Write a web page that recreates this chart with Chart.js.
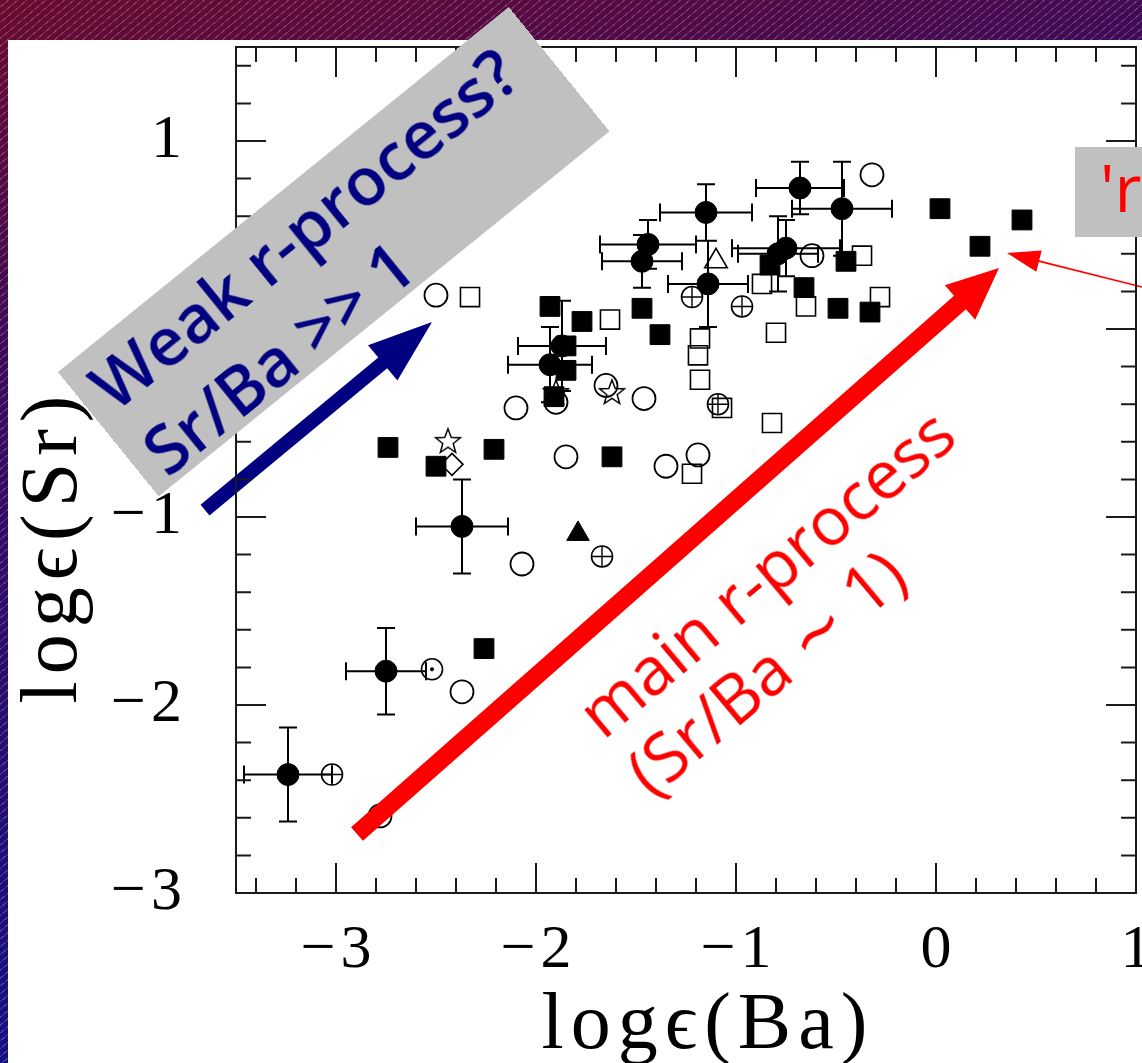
<!DOCTYPE html>
<html>
<head>
<meta charset="utf-8">
<script src="https://cdn.jsdelivr.net/npm/chart.js@4.4.1/dist/chart.umd.min.js"></script>
<style>
  html, body { margin: 0; padding: 0; }
  body {
    width: 1142px; height: 1063px; overflow: hidden; position: relative;
    background:
      repeating-linear-gradient(140deg, rgba(255,255,255,0) 0 5px, rgba(255,255,255,0.22) 5px 6px),
      linear-gradient(165deg, #6a0a2e 0%, #3a0a5c 28%, #10108a 85%);
  }
  #panel { position: absolute; left: 8px; top: 40px; right: 0; bottom: 0; background: #fff; }
  #chart { position: absolute; left: 0; top: 0; }
  .note { position: absolute; transform-origin: 0 0; white-space: nowrap; font-family: 'Open Sans', sans-serif; box-sizing: border-box; }
  #weak { left: 58px; top: 372px; width: 580px; height: 160px; transform: rotate(-39deg);
          background: #c0c0c0; color: #000080; font-weight: 600; font-size: 67px; line-height: 84px; padding-left: 18px; }
  #main { left: 562px; top: 692px; transform: rotate(-40deg); color: #ff0000; font-size: 67px; line-height: 76px; }
  #rbox { left: 1075px; top: 147px; width: 120px; height: 90px; background: #c0c0c0; color: #ff0000;
          font-size: 66px; line-height: 78px; padding-left: 25px; }
</style>
</head>
<body>
<div id="panel"></div>
<canvas id="chart" width="1142" height="1063"></canvas>
<div class="note" id="weak">Weak r-process?<br>Sr/Ba &gt;&gt; 1</div>
<div class="note" id="main">main r-process<br>(Sr/Ba&nbsp;&#8764;&nbsp;1)</div>
<div class="note" id="rbox">'r</div>
<script>
// axis ticks
const xTicks = [-3, -2, -1, 0, 1];
const yTicks = [-3, -2, -1, 0, 1];

// filled circles with error bars
const cirX  = [-3.24, -2.75, -2.37, -1.93, -1.87, -1.44, -1.47, -1.15, -1.14, -0.68, -0.47, -0.75, -0.79];
const cirY  = [-2.37, -1.82, -1.05, -0.19, -0.09, 0.45, 0.36, 0.62, 0.24, 0.75, 0.64, 0.43, 0.40];
const cirEx = [0.22, 0.20, 0.23, 0.21, 0.22, 0.24, 0.20, 0.23, 0.20, 0.22, 0.25, 0.27, 0.20];
const cirEy = [0.25, 0.23, 0.25, 0.20, 0.24, 0.13, 0.14, 0.15, 0.23, 0.14, 0.25, 0.15, 0.20];

// filled squares
const sqX = [-2.74, -2.50, -2.21, -1.62, -2.26, -1.93, -1.77, -1.85, -1.85, -1.91, -1.47, -1.38, -0.83, -0.66, -0.49, -0.33, -0.45, 0.02, 0.22, 0.43];
const sqY = [-0.63, -0.73, -0.64, -0.68, -1.70, 0.12, 0.04, -0.09, -0.22, -0.36, 0.11, -0.03, 0.34, 0.22, 0.11, 0.09, 0.36, 0.64, 0.44, 0.58];

// open squares
const osqX = [-2.33, -1.63, -1.18, -1.19, -1.18, -1.07, -0.82, -0.80, -1.22, -0.87, -0.37, -0.28, -0.65];
const osqY = [0.17, 0.05, -0.05, -0.14, -0.27, -0.42, -0.50, -0.02, -0.77, 0.24, 0.39, 0.17, 0.12];

// open circles
const ocX = [-2.50, -2.10, -1.85, -1.46, -1.35, -1.19, -2.07, -2.37, -2.78, -0.32, -0.62, -1.65, -1.90];
const ocY = [0.18, -0.42, -0.68, -0.37, -0.73, -0.67, -1.25, -1.93, -2.59, 0.82, 0.39, -0.30, -0.39];

// circles with a cross, circle with a dot
const plusX = [-3.02, -1.67, -1.22, -0.97, -1.09];
const plusY = [-2.37, -1.21, 0.17, 0.12, -0.40];
const dotX = [-2.52];
const dotY = [-1.81];

// stars, diamond, triangles
const starX = [-2.44, -1.62, -1.90];
const starY = [-0.60, -0.34, -0.34];
const diaX = [-2.42];
const diaY = [-0.72];
const ftX = [-1.79];
const ftY = [-1.09];
const otX = [-1.10];
const otY = [0.36];

// annotation arrows [x0, y0, x1, y1] in data units
const weakArrow = [-3.655, -0.963, -2.52, 0.037];
const mainArrow = [-2.895, -2.686, 0.315, 0.324];
const thinArrow = [1.03, 0.223, 0.355, 0.404];

const pts = (xs, ys) => xs.map((x, i) => ({ x, y: ys[i] }));
// slightly wider minus like the TeX original
const fmt = v => (v < 0 ? '\u2212\u200a' + Math.abs(v) : String(v));
const serif = '"Liberation Serif", "DejaVu Serif", serif';

function starImage(r) {
  const c = document.createElement('canvas');
  const s = 2 * r + 4;
  c.width = c.height = s;
  const g = c.getContext('2d');
  g.beginPath();
  for (let i = 0; i < 10; i++) {
    const a = -Math.PI / 2 + i * Math.PI / 5, rr = i % 2 ? r * 0.42 : r;
    g.lineTo(s / 2 + rr * Math.cos(a), s / 2 + rr * Math.sin(a));
  }
  g.closePath();
  g.lineWidth = 1.5;
  g.strokeStyle = '#000';
  g.stroke();
  return c;
}

const mark = (data, style, r, fill, bw) => ({
  data, pointStyle: style, pointRadius: r, showLine: false,
  backgroundColor: fill ? '#000' : 'rgba(0,0,0,0)', borderColor: '#000', borderWidth: bw
});

const errorBars = {
  id: 'errorBars',
  beforeDatasetsDraw(chart) {
    const { ctx, scales: { x, y } } = chart;
    const cap = 9;
    ctx.save();
    ctx.strokeStyle = '#000';
    ctx.lineWidth = 2;
    ctx.beginPath();
    cirX.forEach((v, i) => {
      const px = x.getPixelForValue(v), py = y.getPixelForValue(cirY[i]);
      const x0 = x.getPixelForValue(v - cirEx[i]), x1 = x.getPixelForValue(v + cirEx[i]);
      const y0 = y.getPixelForValue(cirY[i] - cirEy[i]), y1 = y.getPixelForValue(cirY[i] + cirEy[i]);
      ctx.moveTo(x0, py); ctx.lineTo(x1, py);
      ctx.moveTo(px, y0); ctx.lineTo(px, y1);
      ctx.moveTo(x0, py - cap); ctx.lineTo(x0, py + cap);
      ctx.moveTo(x1, py - cap); ctx.lineTo(x1, py + cap);
      ctx.moveTo(px - cap, y0); ctx.lineTo(px + cap, y0);
      ctx.moveTo(px - cap, y1); ctx.lineTo(px + cap, y1);
    });
    ctx.stroke();
    ctx.restore();
  }
};

function arrow(ctx, x0, y0, x1, y1, w, hl, hw) {
  const L = Math.hypot(x1 - x0, y1 - y0);
  const ux = (x1 - x0) / L, uy = (y1 - y0) / L, nx = -uy, ny = ux;
  const bx = x1 - ux * hl, by = y1 - uy * hl;
  ctx.beginPath();
  ctx.moveTo(x0 + nx * w / 2, y0 + ny * w / 2);
  ctx.lineTo(bx + nx * w / 2, by + ny * w / 2);
  ctx.lineTo(bx + nx * hw / 2, by + ny * hw / 2);
  ctx.lineTo(x1, y1);
  ctx.lineTo(bx - nx * hw / 2, by - ny * hw / 2);
  ctx.lineTo(bx - nx * w / 2, by - ny * w / 2);
  ctx.lineTo(x0 - nx * w / 2, y0 - ny * w / 2);
  ctx.closePath();
  ctx.fill();
}

const arrows = {
  id: 'arrows',
  afterDatasetsDraw(chart) {
    const { ctx, scales: { x, y } } = chart;
    const px = a => [x.getPixelForValue(a[0]), y.getPixelForValue(a[1]), x.getPixelForValue(a[2]), y.getPixelForValue(a[3])];
    ctx.save();
    ctx.fillStyle = '#000080';
    arrow(ctx, ...px(weakArrow), 14, 64, 46);
    ctx.fillStyle = '#ff0000';
    arrow(ctx, ...px(mainArrow), 18, 52, 46);
    arrow(ctx, ...px(thinArrow), 1.6, 33, 22);
    ctx.restore();
  }
};

const frame = {
  id: 'frame',
  afterDraw(chart) {
    const { ctx, chartArea: a, scales: { x, y } } = chart;
    ctx.save();
    ctx.strokeStyle = '#1a1a1a';
    ctx.lineWidth = 2;
    ctx.strokeRect(a.left, a.top, a.right - a.left, a.bottom - a.top);
    ctx.beginPath();
    for (let i = -17; i <= 5; i++) {
      const p = x.getPixelForValue(i / 5), len = i % 5 === 0 ? 30 : 15;
      ctx.moveTo(p, a.bottom); ctx.lineTo(p, a.bottom - len);
      ctx.moveTo(p, a.top); ctx.lineTo(p, a.top + len);
    }
    for (let i = -15; i <= 7; i++) {
      const p = y.getPixelForValue(i / 5), len = i % 5 === 0 ? 30 : 15;
      ctx.moveTo(a.left, p); ctx.lineTo(a.left + len, p);
      ctx.moveTo(a.right, p); ctx.lineTo(a.right - len, p);
    }
    ctx.stroke();
    // axis titles
    ctx.fillStyle = '#000';
    ctx.font = '80px ' + serif;
    ctx.letterSpacing = '7px';
    ctx.textAlign = 'center';
    ctx.textBaseline = 'alphabetic';
    ctx.fillText('log\u03f5(Ba)', a.left + 472, a.bottom + 155);
    ctx.translate(76, a.top + 499);
    ctx.rotate(-Math.PI / 2);
    ctx.fillText('log\u03f5(Sr)', 0, 0);
    ctx.restore();
  }
};

// keep the plot box fixed: no extra padding for tick labels
const noPad = s => { s.paddingTop = 0; s.paddingBottom = 0; s.paddingLeft = 0; s.paddingRight = 0; };
const tickFont = { family: serif, size: 62 };

new Chart(document.getElementById('chart'), {
  type: 'scatter',
  data: {
    datasets: [
      mark(pts(cirX, cirY), 'circle', 11, true, 1),
      mark(pts(sqX, sqY), 'rect', 14, true, 1),
      mark(pts(dotX, dotY), 'circle', 1.6, true, 1),
      mark(pts(dotX, dotY), 'circle', 10.5, false, 1.6),
      mark(pts(plusX, plusY), 'cross', 10.5, false, 1.4),
      mark(pts(plusX, plusY), 'circle', 10.5, false, 1.6),
      mark(pts(starX, starY), starImage(13), 13, false, 1),
      mark(pts(ftX, ftY), 'triangle', 13, true, 1),
      mark(pts(otX, otY), 'triangle', 13, false, 1.6),
      mark(pts(diaX, diaY), 'rectRot', 11, false, 1.6),
      mark(pts(ocX, ocY), 'circle', 11.5, false, 1.8),
      mark(pts(osqX, osqY), 'rect', 13.5, false, 1.6)
    ]
  },
  options: {
    responsive: false,
    animation: false,
    events: [],
    devicePixelRatio: 1,
    layout: { padding: { top: 47, right: 6, left: 0, bottom: 0 }, autoPadding: false },
    plugins: { legend: { display: false }, tooltip: { enabled: false } },
    scales: {
      x: {
        type: 'linear', min: -3.5, max: 1,
        afterBuildTicks: s => { s.ticks = xTicks.map(v => ({ value: v })); },
        afterFit: s => { s.height = 170; noPad(s); },
        grid: { display: false, drawTicks: false },
        border: { display: false },
        ticks: { padding: 21, color: '#000', font: tickFont, callback: fmt, autoSkip: false, maxRotation: 0 }
      },
      y: {
        type: 'linear', min: -3, max: 1.5,
        afterBuildTicks: s => { s.ticks = yTicks.map(v => ({ value: v })); },
        afterFit: s => { s.width = 236; noPad(s); },
        grid: { display: false, drawTicks: false },
        border: { display: false },
        ticks: { padding: 54, color: '#000', font: tickFont, callback: fmt, autoSkip: false }
      }
    }
  },
  plugins: [errorBars, arrows, frame]
});
</script>
</body>
</html>
